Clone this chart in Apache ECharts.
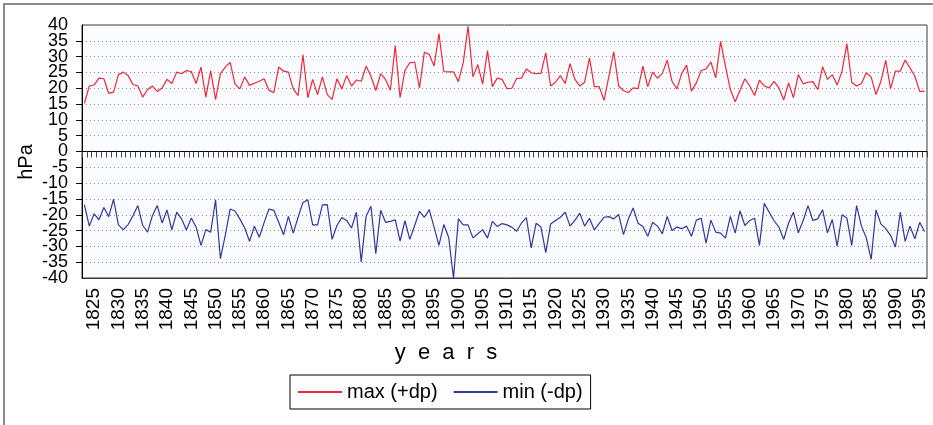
<!DOCTYPE html>
<html>
<head>
<meta charset="utf-8">
<script src="https://cdn.jsdelivr.net/npm/echarts@6/dist/echarts.min.js"></script>
<style>
    html, body { margin: 0; padding: 0; background: #fff; }
    #chart { width: 933px; height: 425px; }
</style>
</head>
<body>
<div id="chart"></div>
<script>
// yearly pressure differences, 1823 - 1996
var firstYear = 1823;
var lastYear = 1996;

var maxDp = [
    15.2, 20.7, 21.1, 23.2, 23.0, 18.4, 18.8, 24.3, 25.1, 24.0, 21.2, 20.7, 17.2, 19.6, 20.7, 19.0, 20.1, 22.8, 21.5, 25.1,
    24.6, 25.6, 25.3, 21.5, 26.7, 17.2, 25.5, 16.4, 24.6, 26.7, 28.2, 21.4, 19.8, 23.6, 20.9,
    21.6, 22.2, 23.0, 19.4, 18.6, 26.7, 25.4, 25.1, 19.8, 17.7, 30.6, 17.0, 22.8, 18.0, 23.6, 18.0, 16.5, 23.0, 19.8, 24.0,
    20.7, 22.6, 22.2, 27.0, 23.8, 19.3, 24.6, 22.8, 19.4, 33.5, 17.0, 25.7, 28.0, 28.3, 20.1,
    31.4, 30.7, 27.0, 37.3, 25.3, 25.2, 25.2, 22.1, 28.0, 39.6, 23.6, 27.5, 21.3, 31.9, 20.5, 23.2, 22.8, 19.9, 20.0, 23.1,
    23.2, 26.1, 24.9, 24.6, 24.7, 31.2, 20.7, 21.9, 24.0, 21.5, 27.8, 22.8, 20.7, 21.9,
    29.6, 20.5, 20.5, 16.2, 23.8, 31.5, 20.7, 19.3, 18.6, 20.1, 19.9, 27.0, 20.5, 25.1, 23.2, 24.7, 28.9, 22.2, 19.8, 24.7,
    27.3, 19.1, 21.7, 25.6, 26.1, 28.3, 23.3, 34.8, 27.0, 19.6, 15.7, 19.4, 23.0, 20.7, 17.7,
    22.6, 20.7, 20.1, 22.2, 20.1, 16.3, 21.7, 17.0, 24.3, 21.4, 21.9, 22.1, 19.6, 26.8, 22.8, 24.3, 21.0, 25.4, 34.1, 21.9,
    20.7, 21.5, 24.9, 23.5, 18.0, 22.2, 28.8, 19.9, 25.4, 25.4, 28.9, 26.4, 23.8, 19.0, 19.0
];

var minDp = [
    -16.9, -23.6, -19.7, -21.6, -17.7, -20.6, -15.1, -23.2, -24.7, -23.1, -20.3, -17.1, -23.4, -25.5, -20.3, -17.1, -22.6, -18.5, -24.8, -19.2,
    -21.3, -24.8, -21.0, -23.9, -29.7, -24.7, -25.5, -15.3, -33.9, -26.5, -18.2, -18.8, -21.3, -24.2, -28.4,
    -23.6, -27.1, -22.5, -18.2, -18.6, -22.4, -26.3, -20.5, -25.8, -20.8, -16.1, -15.3, -23.2, -23.2, -16.9, -16.8, -27.8, -23.4, -20.9, -21.8,
    -24.2, -19.2, -34.9, -20.5, -17.3, -32.3, -18.6, -22.4, -22.1, -21.6, -28.3, -21.9, -27.8, -23.4, -18.9,
    -20.8, -18.4, -23.9, -29.7, -23.1, -27.1, -40.0, -21.3, -23.2, -23.2, -27.3, -26.0, -24.7, -27.4, -22.1, -23.7, -22.8, -23.2, -23.9, -25.2,
    -22.6, -20.9, -30.5, -22.7, -23.9, -32.0, -22.9, -21.8, -20.8, -19.2, -23.6, -21.8, -19.5, -23.6,
    -21.1, -24.8, -22.7, -20.8, -20.6, -21.3, -19.9, -26.3, -21.3, -17.9, -22.7, -23.7, -26.8, -22.4, -23.6, -26.0, -20.5, -25.0, -23.9, -24.4,
    -23.6, -26.8, -21.7, -21.1, -29.0, -21.7, -25.5, -25.8, -27.4, -20.5, -25.8, -18.8, -23.4, -21.8, -21.1,
    -29.7, -16.4, -19.2, -21.9, -23.9, -27.8, -22.6, -19.2, -25.7, -21.8, -17.1, -21.8, -21.3, -18.4, -25.7, -21.5, -29.9, -20.0, -21.0, -29.7,
    -17.1, -23.6, -27.3, -34.1, -18.5, -22.9, -24.4, -26.5, -30.2, -19.2, -28.4, -23.6, -27.6, -22.4, -25.3
];

var years = [];
for (var y = firstYear; y <= lastYear; y++) {
    years.push(String(y));
}

var seriesNames = ['max (+dp)', 'min (-dp)'];
var LINE_COLOR = ['#ee2838', '#34389a'];
var FONT = "'Liberation Sans', Arial, sans-serif";
var Y_MIN = -40;
var Y_MAX = 40;

var chart = echarts.init(document.getElementById('chart'), null, { renderer: 'canvas' });

var yLabelStyle = {
    margin: 14,
    fontFamily: FONT,
    fontSize: 18,
    color: '#000'
};

var option = {
    animation: false,
    backgroundColor: '#ffffff',
    grid: {
        left: 82,
        right: 6,
        top: 25,
        bottom: 147,
        show: true,
        backgroundColor: '#f9fbfe',
        borderColor: '#3a3a3a',
        borderWidth: 1
    },
    legend: {
        left: 290,
        top: 375,
        padding: [7, 8, 7, 8],
        itemGap: 16,
        itemWidth: 44,
        itemHeight: 2,
        icon: 'rect',
        borderColor: '#000',
        borderWidth: 1,
        borderRadius: 0,
        backgroundColor: '#fdfdff',
        textStyle: {
            fontFamily: FONT,
            fontSize: 20,
            color: '#000'
        },
        data: seriesNames
    },
    xAxis: [
        {
            type: 'category',
            data: years,
            boundaryGap: true,
            position: 'bottom',
            axisLine: { onZero: false, lineStyle: { color: '#3a3a3a', width: 1 } },
            axisTick: { show: false },
            splitLine: { show: false },
            axisLabel: {
                rotate: 90,
                margin: 10,
                fontFamily: FONT,
                fontSize: 19,
                color: '#000',
                interval: function (index, value) {
                    return Number(value) % 5 === 0;
                }
            }
        },
        {
            type: 'category',
            data: years,
            boundaryGap: true,
            position: 'bottom',
            axisLine: { onZero: true, onZeroAxisIndex: 0, lineStyle: { color: '#000', width: 1 } },
            axisTick: { show: true, interval: 0, length: 6, lineStyle: { color: '#444' } },
            axisLabel: { show: false },
            splitLine: { show: false }
        }
    ],
    yAxis: [
        {
            type: 'value',
            min: Y_MIN,
            max: Y_MAX,
            interval: 5,
            axisLine: { show: true, lineStyle: { color: '#000' } },
            axisTick: { show: true, length: 6, lineStyle: { color: '#000' } },
            axisLabel: yLabelStyle,
            splitLine: {
                show: true,
                lineStyle: { color: '#8a8a8a', type: [1, 3], width: 1 }
            }
        },
        {
            // only the end labels (40 / -40), the first axis drops them on overlap
            type: 'value',
            position: 'left',
            min: Y_MIN,
            max: Y_MAX,
            interval: 5,
            axisLine: { show: false },
            axisTick: { show: false },
            splitLine: { show: false },
            axisLabel: Object.assign({}, yLabelStyle, {
                showMinLabel: true,
                showMaxLabel: true,
                formatter: function (v) {
                    return (v === Y_MIN || v === Y_MAX) ? String(v) : '';
                }
            })
        }
    ],
    graphic: [
        {
            type: 'rect',
            silent: true,
            shape: { x: 4, y: 4, width: 940, height: 440 },
            style: { fill: 'none', stroke: '#8c8c8c', lineWidth: 2 }
        },
        {
            type: 'text',
            x: 26,
            y: 162,
            rotation: Math.PI / 2,
            style: {
                text: 'hPa',
                fontFamily: FONT,
                fontSize: 20,
                fill: '#000',
                align: 'center',
                verticalAlign: 'middle'
            }
        },
        {
            type: 'text',
            x: 446,
            y: 353,
            style: {
                text: 'y  e  a  r  s',
                fontFamily: FONT,
                fontSize: 22,
                fill: '#000',
                align: 'center',
                verticalAlign: 'middle'
            }
        }
    ],
    series: [
        {
            name: seriesNames[0],
            type: 'line',
            data: maxDp,
            xAxisIndex: 0,
            yAxisIndex: 0,
            showSymbol: false,
            symbol: 'none',
            lineStyle: { color: LINE_COLOR[0], width: 1.2 },
            itemStyle: { color: LINE_COLOR[0] }
        },
        {
            name: seriesNames[1],
            type: 'line',
            data: minDp,
            xAxisIndex: 0,
            yAxisIndex: 0,
            showSymbol: false,
            symbol: 'none',
            lineStyle: { color: LINE_COLOR[1], width: 1.2 },
            itemStyle: { color: LINE_COLOR[1] }
        }
    ]
};

chart.setOption(option);
</script>
</body>
</html>
